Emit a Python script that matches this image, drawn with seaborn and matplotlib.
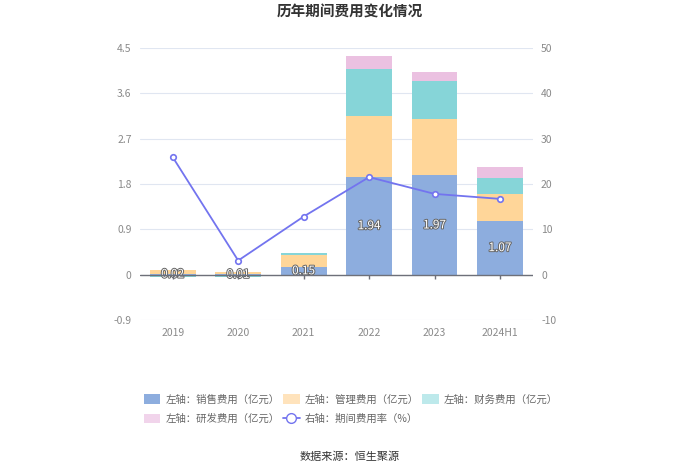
import numpy as np
import pandas as pd
import seaborn as sns
import matplotlib.pyplot as plt
import matplotlib.patheffects as pe
from matplotlib.lines import Line2D
from matplotlib.patches import Patch

years = ['2019', '2020', '2021', '2022', '2023', '2024H1']
sales = [0.02, 0.01, 0.15, 1.94, 1.97, 1.07]
admin = [0.07, 0.05, 0.23, 1.21, 1.12, 0.52]
finance = [-0.05, -0.04, 0.04, 0.93, 0.75, 0.33]
rnd = [0.0, 0.0, 0.01, 0.25, 0.18, 0.22]
rate = [25.9, 3.1, 12.8, 21.5, 17.8, 16.7]

series_names = ['左轴：销售费用（亿元）', '左轴：管理费用（亿元）', '左轴：财务费用（亿元）', '左轴：研发费用（亿元）']
line_name = '右轴：期间费用率（%）'
colors = ['#8DADDE', '#FFD699', '#86D5D8', '#EBC1E1']
legend_colors = ['#8DADDE', '#FFE3BC', '#BDE9EB', '#F1D4EB']
line_color = '#7374EF'

sns.set_style('white')
plt.rcParams['font.family'] = ['Noto Sans CJK SC', 'DejaVu Sans']
plt.rcParams['axes.unicode_minus'] = False

fig = plt.figure(figsize=(7, 4.74), dpi=100)
ax = fig.add_axes([0.2, 0.325, 0.561, 0.574])

df = pd.DataFrame({'year': years})
pos_bottom = np.zeros(len(years))
neg_bottom = np.zeros(len(years))
sales_container = None
for vals, color in zip([sales, admin, finance, rnd], colors):
    vals = np.array(vals)
    bottom = np.where(vals >= 0, pos_bottom, neg_bottom)
    sns.barplot(x=df['year'], y=vals, bottom=bottom, color=color, width=0.7,
                errorbar=None, ax=ax, saturation=1, linewidth=0)
    if sales_container is None:
        sales_container = ax.containers[-1]
    pos_bottom = pos_bottom + np.where(vals >= 0, vals, 0)
    neg_bottom = neg_bottom + np.where(vals < 0, vals, 0)

labels = ax.bar_label(sales_container, labels=[f'{v:.2f}' for v in sales],
                      label_type='center', color='white', fontsize=8.5)
for t in labels:
    t.set_path_effects([pe.withStroke(linewidth=1.4, foreground='#666666')])

ax.set_ylim(-0.9, 4.5)
ax.set_yticks(np.arange(-0.9, 4.51, 0.9))
ax.set_yticklabels(['-0.9', '0', '0.9', '1.8', '2.7', '3.6', '4.5'])
ax.set_xlim(-0.5, len(years) - 0.5)
ax.grid(axis='y', color='#E0E6F1', linewidth=0.8)
ax.set_axisbelow(True)
ax.set_xlabel('')
ax.set_ylabel('')
for s in ax.spines.values():
    s.set_visible(False)
ax.tick_params(axis='both', length=0, labelsize=7.5, labelcolor='#8A8A8A', pad=6)

# x axis line at zero with ticks under each category
ax.axhline(0, color='#6E7079', linewidth=1, zorder=3)
ax.vlines(range(len(years)), -0.08, 0, color='#6E7079', linewidth=1, zorder=3)

ax2 = ax.twinx()
sns.lineplot(x=np.arange(len(years)), y=rate, ax=ax2, color=line_color, linewidth=1.3,
             marker='o', markersize=4, markerfacecolor='white',
             markeredgecolor=line_color, markeredgewidth=1.2)
ax2.set_ylim(-10, 50)
ax2.set_yticks(range(-10, 51, 10))
for s in ax2.spines.values():
    s.set_visible(False)
ax2.tick_params(axis='y', length=0, labelsize=7.5, labelcolor='#8A8A8A', pad=6)
ax2.set_ylabel('')

handles = [Patch(facecolor=c, edgecolor='none') for c in legend_colors]
line_handle = Line2D([], [], color=line_color, marker='o', markersize=7,
                     markerfacecolor='white', markeredgecolor=line_color, linewidth=1.3)
order_h = [handles[0], handles[3], handles[1], line_handle, handles[2]]
order_l = [series_names[0], series_names[3], series_names[1], line_name, series_names[2]]
fig.legend(order_h, order_l, loc='upper left', bbox_to_anchor=(0.192, 1 - 385 / 474),
           ncol=3, frameon=False, fontsize=7.5, labelcolor='#666666',
           handlelength=1.6, handleheight=1.0, columnspacing=0.3, handletextpad=0.5,
           labelspacing=0.9)

fig.text(0.5, 1 - 12 / 474, '历年期间费用变化情况', ha='center', va='center',
         fontsize=10.5, fontweight='bold', color='#333333')
fig.text(0.5, 1 - 457 / 474, '数据来源：恒生聚源', ha='center', va='center',
         fontsize=8, color='#333333')

fig.savefig('out.png', dpi=100)
